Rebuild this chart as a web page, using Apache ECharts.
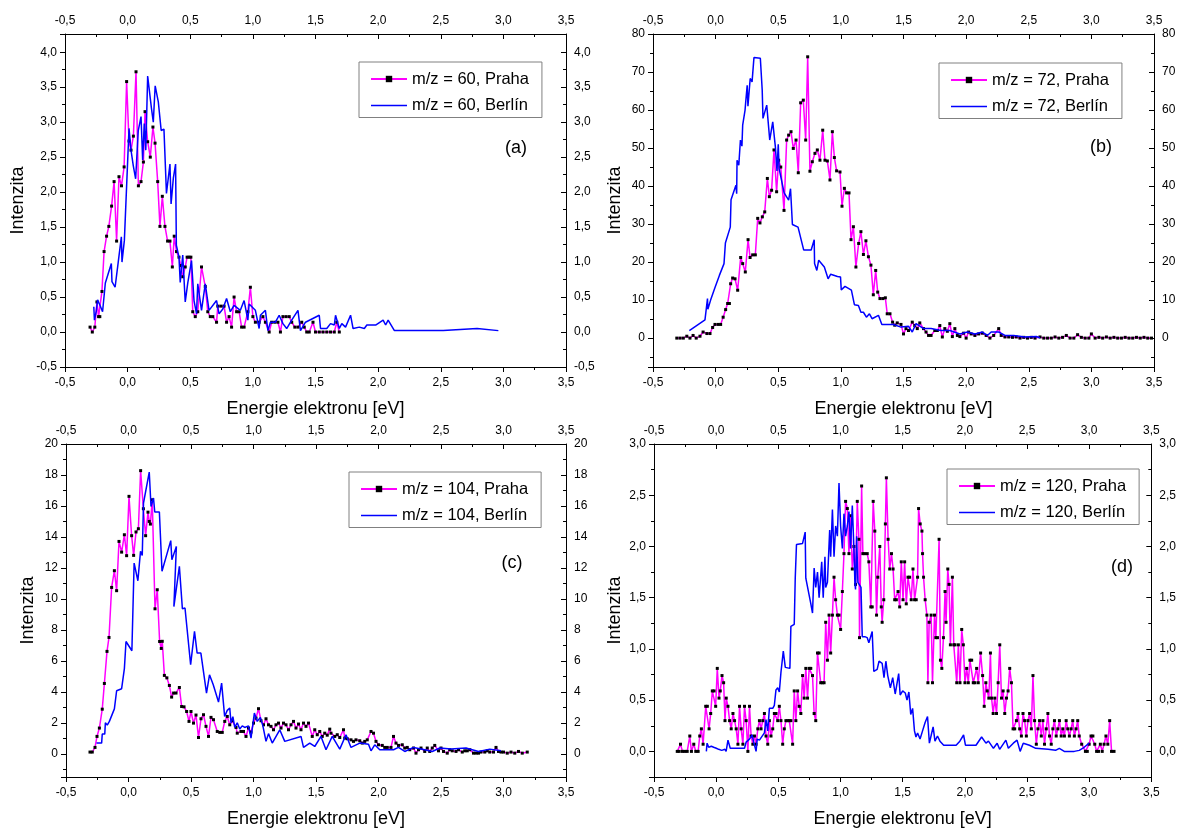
<!DOCTYPE html>
<html><head><meta charset="utf-8">
<script src="https://cdn.jsdelivr.net/npm/echarts@6/dist/echarts.min.js"></script>
<style>html,body{margin:0;padding:0;background:#fff}#c{width:1179px;height:831px}</style>
</head><body><div id="c"></div>
<script>
// ---- axis ranges [min, max, step, decimals] ----
const xRange = [-0.5, 3.5, 0.5, 1];
const yRangeA = [-0.5, 4.26, 0.5, 1];
const yRangeB = [-7.6, 80, 10, 0];
const yRangeC = [-1.5, 20, 2, 0];
const yRangeD = [-0.25, 3.0, 0.5, 1];
const xTitle = 'Energie elektronu [eV]';
const yTitle = 'Intenzita';
const panelLabels = ['(a)', '(b)', '(c)', '(d)'];
const namesA = ['m/z = 60, Praha', 'm/z = 60, Berlín'];
const namesB = ['m/z = 72, Praha', 'm/z = 72, Berlín'];
const namesC = ['m/z = 104, Praha', 'm/z = 104, Berlín'];
const namesD = ['m/z = 120, Praha', 'm/z = 120, Berlín'];

// ---- data [x, y] ----
const praha60 = [[-0.30,0.07],[-0.282,0],[-0.262,0.07],[-0.245,0.43],[-0.232,0.22],[-0.222,0.22],[-0.205,0.58],[-0.188,1.15],[-0.168,1.37],[-0.15,1.51],[-0.128,1.8],[-0.108,2.15],[-0.088,1.3],[-0.069,2.22],[-0.049,2.09],[-0.028,2.36],[-0.008,3.58],[0.011,2.73],[0.027,2.6],[0.046,2.8],[0.067,3.72],[0.086,2.09],[0.107,2.15],[0.126,2.43],[0.139,3.15],[0.16,2.72],[0.181,2.5],[0.202,2.93],[0.219,2.7],[0.24,2.15],[0.258,1.51],[0.277,1.94],[0.298,1.51],[0.319,1.3],[0.338,1.3],[0.357,0.93],[0.372,1.37],[0.39,1.15],[0.41,1.07],[0.425,0.95],[0.44,0.79],[0.46,0.93],[0.475,1.07],[0.49,1.07],[0.505,1.07],[0.52,0.29],[0.54,0.22],[0.56,0.29],[0.59,0.93],[0.62,0.65],[0.64,0.29],[0.66,0.22],[0.68,0.22],[0.71,0.14],[0.72,0.37],[0.745,0.37],[0.77,0.37],[0.79,0.14],[0.81,0.22],[0.83,0.07],[0.85,0.5],[0.87,0.29],[0.89,0.29],[0.91,0.07],[0.93,0.07],[0.96,0.29],[0.98,0.64],[1.0,0.22],[1.02,0.14],[1.05,0.14],[1.08,0.22],[1.1,0.14],[1.13,0],[1.15,0.14],[1.175,0.14],[1.2,0.14],[1.22,0],[1.24,0.22],[1.265,0.22],[1.29,0.22],[1.31,0.14],[1.335,0.07],[1.36,0.07],[1.39,0.14],[1.41,0.07],[1.43,0],[1.45,0],[1.48,0.14],[1.5,0],[1.53,0],[1.56,0],[1.59,0],[1.62,0],[1.65,0],[1.67,0.14],[1.69,0]];
const berlin60 = [[-0.27,0.36],[-0.265,0.17],[-0.25,0.3],[-0.24,0.46],[-0.22,0.38],[-0.2,0.29],[-0.178,0.7],[-0.13,0.98],[-0.125,0.72],[-0.1,0.64],[-0.075,1.0],[-0.05,1.36],[-0.045,1.0],[-0.026,1.31],[0.011,2.91],[0.027,2.6],[0.045,2.38],[0.064,2.19],[0.085,2.88],[0.107,3.08],[0.12,2.46],[0.133,2.98],[0.145,2.6],[0.16,3.66],[0.19,3.2],[0.205,3.0],[0.22,3.52],[0.245,3.29],[0.268,2.88],[0.29,2.9],[0.31,1.98],[0.338,2.4],[0.347,1.83],[0.365,2.2],[0.383,2.4],[0.389,1.24],[0.41,1.07],[0.42,0.71],[0.44,1.1],[0.46,0.43],[0.48,0.7],[0.51,1.02],[0.53,0.45],[0.55,0.26],[0.56,0.69],[0.59,0.31],[0.62,0.69],[0.65,0.31],[0.71,0.45],[0.73,0.26],[0.76,0.33],[0.79,0.48],[0.82,0.29],[0.85,0.38],[0.9,0.31],[0.93,0.45],[0.96,0.17],[0.97,0.4],[1.02,0.31],[1.05,0.05],[1.06,0.24],[1.1,0.31],[1.12,0.02],[1.14,0.14],[1.18,0.14],[1.21,0.24],[1.24,0.12],[1.27,0.05],[1.31,0.17],[1.36,0.31],[1.38,0.02],[1.42,0.14],[1.53,0.24],[1.54,0.05],[1.59,0.05],[1.62,0.12],[1.65,0.1],[1.66,0.24],[1.69,0.05],[1.71,0.12],[1.74,0.07],[1.78,0.24],[1.8,0.05],[1.85,0.07],[1.89,0.05],[1.91,0.1],[1.98,0.1],[2.04,0.17],[2.06,0.1],[2.08,0.17],[2.13,0.02],[2.28,0.02],[2.52,0.02],[2.79,0.05],[2.96,0.02]];

const praha72 = [[-0.31,0],[-0.284,0],[-0.258,0],[-0.23,0.5],[-0.205,0],[-0.18,0.7],[-0.155,0],[-0.125,0.5],[-0.1,1.6],[-0.07,1.2],[-0.045,1.2],[-0.024,2.8],[-0.005,3.6],[0.02,3.6],[0.04,3.6],[0.06,5.5],[0.08,7.5],[0.096,9.1],[0.11,9.1],[0.12,14.3],[0.136,15.8],[0.155,15.6],[0.176,12.6],[0.2,21.2],[0.216,19.6],[0.237,17.4],[0.259,25.9],[0.275,21.2],[0.296,21.9],[0.317,21.9],[0.336,31.5],[0.354,30.3],[0.373,31.9],[0.392,33.2],[0.413,42.0],[0.429,37.2],[0.447,38.9],[0.466,49.5],[0.487,38.5],[0.503,46.8],[0.52,45.0],[0.546,33.6],[0.567,52.1],[0.583,53.4],[0.602,54.3],[0.62,49.9],[0.642,52.1],[0.66,43.5],[0.679,61.9],[0.7,62.6],[0.719,52.1],[0.735,74.0],[0.753,43.9],[0.772,46.4],[0.793,48.6],[0.812,49.5],[0.833,46.8],[0.855,54.7],[0.873,46.8],[0.892,46.6],[0.913,41.6],[0.932,54.3],[0.948,47.5],[0.966,44.0],[0.993,43.7],[1.009,34.7],[1.028,39.4],[1.046,38.2],[1.065,38.2],[1.081,25.9],[1.1,29.3],[1.12,18.7],[1.142,24.9],[1.16,28.0],[1.18,22.0],[1.2,25.6],[1.22,21.4],[1.24,19.2],[1.259,11.4],[1.278,17.8],[1.294,12.1],[1.312,10.4],[1.335,10.4],[1.355,10.6],[1.37,6.4],[1.392,6.4],[1.413,4.2],[1.43,3.4],[1.45,4.0],[1.48,3.6],[1.5,1.1],[1.52,2.5],[1.54,2.0],[1.57,4.2],[1.59,3.3],[1.61,2.5],[1.63,4.0],[1.66,2.5],[1.68,1.6],[1.7,0.7],[1.72,0.7],[1.75,2.0],[1.77,2.0],[1.79,3.3],[1.81,0.3],[1.83,2.5],[1.85,1.8],[1.87,3.8],[1.89,0.4],[1.91,2.5],[1.93,0.7],[1.95,0.4],[1.98,1.3],[2.0,0],[2.02,1.6],[2.04,1.1],[2.07,0.7],[2.1,1.1],[2.13,1.3],[2.16,0.7],[2.19,0],[2.22,0.7],[2.26,2.5],[2.28,0.7],[2.31,0.3],[2.34,0.3],[2.37,0.2],[2.4,0.3],[2.43,0],[2.46,0.2],[2.49,0],[2.52,0.2],[2.55,0],[2.59,0.3],[2.62,0],[2.65,0],[2.68,0],[2.71,0.3],[2.74,0],[2.77,0.2],[2.8,0.7],[2.83,0],[2.86,0],[2.89,0.9],[2.92,0.2],[2.95,0],[2.98,0],[3.0,1.1],[3.03,0],[3.06,0.2],[3.09,0],[3.12,0.3],[3.15,0],[3.18,0.2],[3.21,0],[3.24,0],[3.27,0.2],[3.3,0],[3.33,0],[3.36,0.2],[3.39,0],[3.42,0.2],[3.45,0],[3.48,0]];
const berlin72 = [[-0.21,2.0],[-0.085,4.8],[-0.065,10.4],[-0.062,7.6],[-0.04,10.0],[-0.005,13.3],[0.03,16.5],[0.067,19.6],[0.078,25.0],[0.117,29.2],[0.123,36.4],[0.162,40.2],[0.168,38.0],[0.171,46.8],[0.185,45.5],[0.198,52.1],[0.21,50.5],[0.216,56.0],[0.235,60.0],[0.24,62.0],[0.252,66.5],[0.258,61.0],[0.261,60.8],[0.276,68.3],[0.291,67.4],[0.306,73.8],[0.357,73.6],[0.372,65.2],[0.378,57.8],[0.408,61.3],[0.432,52.1],[0.456,56.9],[0.477,50.3],[0.49,44.0],[0.5,51.0],[0.507,44.6],[0.52,45.0],[0.547,38.2],[0.583,36.3],[0.598,39.3],[0.613,29.9],[0.658,29.2],[0.703,23.2],[0.763,23.2],[0.787,25.9],[0.79,19.6],[0.808,17.8],[0.823,20.5],[0.868,18.7],[0.898,15.6],[0.919,16.8],[0.973,16.2],[0.997,16.1],[1.003,12.7],[1.033,13.6],[1.084,12.6],[1.108,8.8],[1.14,8.6],[1.16,6.8],[1.18,6.8],[1.204,5.5],[1.228,6.4],[1.249,5.1],[1.3,6.0],[1.327,3.6],[1.42,3.6],[1.48,2.9],[1.54,3.1],[1.57,1.6],[1.6,3.8],[1.66,2.5],[1.72,2.5],[1.8,2.0],[1.87,2.0],[1.95,1.1],[2.01,1.6],[2.07,1.1],[2.13,1.6],[2.17,0.7],[2.2,1.6],[2.26,1.6],[2.31,0.7],[2.38,0.7],[2.47,0.3],[2.56,0.4],[2.59,0.1]];

const praha104 = [[-0.308,0.11],[-0.29,0.11],[-0.268,0.41],[-0.252,1.12],[-0.233,1.66],[-0.21,2.88],[-0.193,4.54],[-0.172,6.61],[-0.156,7.51],[-0.135,10.74],[-0.113,11.82],[-0.095,10.53],[-0.076,13.71],[-0.055,13.02],[-0.033,14.14],[-0.015,12.79],[0.004,16.62],[0.025,14.08],[0.041,12.81],[0.06,14.32],[0.079,14.53],[0.097,18.28],[0.119,15.82],[0.137,14.08],[0.156,15.6],[0.166,15.0],[0.175,14.83],[0.19,16.4],[0.212,9.36],[0.23,10.59],[0.249,7.25],[0.262,6.8],[0.27,7.26],[0.287,5.06],[0.307,4.9],[0.327,4.41],[0.345,3.66],[0.361,3.92],[0.38,3.92],[0.407,4.28],[0.425,3.05],[0.444,3.03],[0.465,2.73],[0.484,2.09],[0.5,2.73],[0.52,1.98],[0.54,2.5],[0.56,1.05],[0.58,2.26],[0.6,2.52],[0.62,1.77],[0.64,1.12],[0.66,2.35],[0.68,2.2],[0.71,1.44],[0.73,1.38],[0.75,1.38],[0.77,2.09],[0.79,2.41],[0.81,1.87],[0.83,2.13],[0.86,1.7],[0.87,1.33],[0.9,1.44],[0.92,1.44],[0.94,1.12],[0.96,1.66],[0.98,1.4],[1.0,1.98],[1.02,2.3],[1.04,2.91],[1.06,2.13],[1.08,1.87],[1.1,2.26],[1.12,1.87],[1.14,1.77],[1.16,1.55],[1.18,1.87],[1.2,1.98],[1.22,1.66],[1.24,1.98],[1.26,1.87],[1.28,1.55],[1.3,1.87],[1.32,2.09],[1.34,1.66],[1.36,1.92],[1.38,1.55],[1.4,1.98],[1.42,1.77],[1.44,1.98],[1.47,1.12],[1.49,1.55],[1.51,1.23],[1.53,1.44],[1.55,1.12],[1.57,1.33],[1.59,1.2],[1.61,1.59],[1.62,1.33],[1.65,1.12],[1.67,1.23],[1.69,1.05],[1.72,1.55],[1.73,1.01],[1.75,0.97],[1.78,0.9],[1.8,0.8],[1.82,0.9],[1.85,0.84],[1.87,0.69],[1.89,0.8],[1.91,0.9],[1.94,1.44],[1.96,1.33],[1.98,0.8],[2.0,0.58],[2.03,0.54],[2.05,0.41],[2.07,0.41],[2.1,0.41],[2.12,1.12],[2.14,0.69],[2.16,0.54],[2.19,0.58],[2.21,0.37],[2.23,0.41],[2.25,0.26],[2.28,0.37],[2.3,0.04],[2.32,0.26],[2.34,0.37],[2.37,0.15],[2.39,0.37],[2.41,0.15],[2.43,0.37],[2.45,0.54],[2.48,0.19],[2.5,0.37],[2.52,0.15],[2.55,0.04],[2.57,0.26],[2.59,0.19],[2.62,0.15],[2.64,0.26],[2.67,0.11],[2.69,0.19],[2.71,0.19],[2.73,0.26],[2.76,0.04],[2.78,0.04],[2.8,0.04],[2.82,0.11],[2.85,0.11],[2.87,0.19],[2.89,0.11],[2.92,0.11],[2.94,0.41],[2.96,0.15],[2.98,0.11],[3.0,0.11],[3.03,0.04],[3.06,0.11],[3.09,0.04],[3.12,0.15],[3.15,0.04],[3.19,0.11]];
const berlin104 = [[-0.256,0.69],[-0.215,0.69],[-0.21,1.27],[-0.19,1.27],[-0.185,2.0],[-0.17,1.85],[-0.153,2.09],[-0.113,2.9],[-0.095,4.07],[-0.055,4.2],[-0.033,5.5],[-0.02,7.25],[0.027,6.65],[0.045,12.31],[0.075,11.17],[0.096,13.07],[0.11,12.81],[0.12,16.19],[0.166,18.19],[0.18,15.97],[0.2,16.51],[0.21,15.61],[0.247,15.61],[0.268,11.78],[0.338,13.76],[0.347,12.53],[0.383,13.39],[0.363,9.5],[0.407,12.1],[0.431,9.36],[0.452,9.41],[0.497,5.75],[0.528,7.9],[0.549,6.5],[0.579,6.5],[0.624,3.92],[0.648,5.1],[0.678,4.46],[0.72,3.34],[0.745,4.56],[0.769,2.41],[0.79,2.8],[0.81,2.95],[0.82,2.0],[0.835,2.4],[0.85,1.7],[0.87,2.0],[0.89,1.6],[0.91,1.8],[0.93,1.7],[0.96,1.8],[0.98,1.01],[1.007,2.63],[1.03,2.09],[1.055,2.35],[1.075,1.8],[1.1,0.8],[1.12,1.3],[1.15,0.69],[1.21,1.55],[1.25,0.8],[1.38,1.12],[1.4,0.41],[1.45,0.69],[1.49,0.47],[1.54,1.12],[1.58,0.26],[1.63,1.12],[1.69,0.3],[1.74,1.23],[1.78,0.41],[1.85,0.69],[1.92,0.62],[1.94,0.19],[1.97,0.58],[2.01,0.26],[2.12,0.26],[2.16,0.41],[2.21,0.15],[2.28,0.41],[2.37,0.26],[2.43,0.15],[2.49,0.37],[2.58,0.3],[2.7,0.37],[2.8,0.15],[2.89,0.3],[2.98,0.19]];

const praha120 = [[-0.313,0],[-0.297,0],[-0.287,0.07],[-0.271,0],[-0.252,0],[-0.233,0],[-0.212,0.15],[-0.199,0],[-0.18,0.07],[-0.164,0],[-0.145,0],[-0.132,0.15],[-0.119,0.22],[-0.105,0.07],[-0.084,0.44],[-0.071,0.44],[-0.057,0.22],[-0.044,0.37],[-0.031,0.59],[-0.017,0.59],[-0.004,0.44],[0.009,0.81],[0.023,0.52],[0.033,0.59],[0.047,0.74],[0.06,0.67],[0.071,0.3],[0.081,0.52],[0.095,0.44],[0.108,0.3],[0.121,0.22],[0.135,0.37],[0.148,0.3],[0.161,0.22],[0.175,0.07],[0.188,0.44],[0.201,0.22],[0.215,0.07],[0.228,0.44],[0.241,0.3],[0.255,0],[0.268,0.44],[0.281,0.15],[0.295,0.07],[0.308,0.15],[0.321,0.07],[0.335,0.22],[0.348,0.3],[0.361,0.22],[0.375,0.3],[0.388,0.37],[0.401,0.15],[0.415,0.07],[0.428,0.3],[0.441,0.15],[0.455,0.22],[0.468,0.37],[0.481,0.37],[0.495,0.3],[0.508,0.44],[0.521,0.3],[0.535,0.07],[0.548,0.22],[0.561,0.3],[0.575,0.3],[0.588,0.3],[0.601,0.3],[0.615,0.07],[0.628,0.59],[0.641,0.3],[0.655,0.59],[0.668,0.44],[0.681,0.37],[0.695,0.74],[0.708,0.52],[0.721,0.81],[0.735,0.52],[0.748,0.81],[0.761,0.81],[0.775,0.74],[0.788,0.37],[0.801,0.3],[0.815,0.96],[0.828,0.96],[0.841,0.67],[0.855,0.67],[0.868,0.67],[0.881,1.26],[0.895,0.89],[0.908,1.33],[0.921,0.96],[0.935,1.33],[0.948,1.7],[0.961,1.48],[0.975,1.33],[0.988,1.33],[1.001,1.19],[1.015,1.56],[1.028,1.93],[1.041,2.44],[1.055,2.37],[1.068,1.93],[1.081,2.3],[1.095,1.78],[1.108,2.0],[1.121,1.63],[1.135,2.44],[1.148,2.07],[1.153,1.11],[1.17,2.59],[1.18,1.93],[1.195,1.93],[1.215,1.93],[1.228,1.85],[1.244,1.41],[1.255,1.41],[1.263,2.44],[1.276,2.15],[1.29,1.33],[1.3,1.7],[1.316,2.0],[1.328,1.41],[1.335,1.26],[1.348,1.48],[1.361,2.22],[1.369,2.67],[1.383,2.07],[1.396,1.78],[1.41,1.93],[1.423,1.78],[1.436,1.48],[1.449,1.48],[1.463,1.56],[1.476,1.41],[1.489,1.85],[1.503,1.48],[1.516,1.85],[1.529,1.44],[1.543,1.7],[1.556,1.7],[1.569,1.48],[1.583,1.78],[1.596,1.48],[1.609,1.48],[1.62,1.7],[1.628,2.37],[1.641,2.22],[1.655,2.15],[1.66,1.93],[1.668,1.7],[1.681,1.48],[1.695,1.33],[1.703,0.67],[1.713,1.26],[1.729,1.33],[1.74,0.67],[1.756,1.33],[1.767,1.11],[1.78,1.11],[1.793,2.07],[1.804,0.89],[1.815,0.81],[1.828,1.11],[1.841,1.56],[1.849,1.26],[1.863,1.78],[1.873,1.63],[1.884,1.04],[1.9,1.7],[1.911,1.04],[1.921,1.04],[1.935,0.67],[1.948,1.04],[1.961,0.67],[1.975,1.19],[1.988,1.04],[2.001,0.67],[2.015,0.81],[2.028,0.67],[2.041,0.89],[2.055,0.89],[2.068,0.67],[2.081,0.67],[2.095,0.81],[2.108,0.67],[2.127,0.96],[2.143,0.74],[2.156,0.44],[2.169,0.67],[2.18,0.59],[2.193,0.52],[2.206,0.96],[2.215,0.52],[2.228,0.37],[2.241,0.52],[2.255,0.37],[2.268,0.67],[2.281,1.04],[2.295,0.52],[2.308,0.59],[2.321,0.37],[2.335,0.52],[2.348,0.59],[2.361,0.81],[2.375,0.67],[2.388,0.22],[2.401,0.22],[2.415,0.3],[2.428,0.37],[2.441,0.22],[2.455,0.15],[2.468,0.37],[2.481,0.3],[2.495,0.15],[2.508,0.3],[2.521,0.37],[2.535,0.22],[2.548,0.74],[2.561,0.3],[2.575,0.07],[2.588,0.22],[2.601,0.3],[2.615,0.15],[2.628,0.3],[2.641,0.07],[2.655,0.22],[2.668,0.37],[2.681,0.15],[2.695,0.07],[2.708,0.22],[2.721,0.3],[2.735,0.15],[2.748,0.22],[2.761,0.3],[2.775,0.15],[2.788,0.22],[2.801,0.15],[2.815,0.3],[2.828,0.22],[2.841,0.15],[2.855,0.22],[2.868,0.3],[2.881,0.15],[2.895,0.22],[2.908,0.3],[2.92,0.15],[2.94,0.07],[2.97,0],[2.985,0],[3.0,0.07],[3.015,0.15],[3.03,0.15],[3.045,0.07],[3.06,0],[3.075,0],[3.09,0.07],[3.105,0],[3.12,0.07],[3.135,0.15],[3.15,0.07],[3.165,0.3],[3.18,0],[3.2,0]];
const berlin120 = [[-0.079,0],[-0.073,0.08],[-0.06,0.04],[-0.039,0.05],[-0.02,0.04],[0.001,0.03],[0.02,0.02],[0.045,0.01],[0.07,0.02],[0.08,0],[0.095,0.11],[0.108,0.11],[0.113,0.03],[0.15,0.03],[0.2,0.03],[0.228,0.03],[0.241,0.09],[0.268,0.12],[0.289,0.16],[0.3,0.1],[0.321,0],[0.33,0.12],[0.348,0.11],[0.361,0.12],[0.388,0.18],[0.401,0.31],[0.415,0.2],[0.428,0.42],[0.455,0.42],[0.468,0.45],[0.481,0.6],[0.495,0.62],[0.508,0.58],[0.521,0.77],[0.54,0.98],[0.556,0.82],[0.593,0.81],[0.601,1.22],[0.628,1.24],[0.636,1.69],[0.646,2.02],[0.695,2.03],[0.716,2.14],[0.721,1.69],[0.76,1.45],[0.775,1.35],[0.788,1.79],[0.801,1.6],[0.815,1.75],[0.828,1.5],[0.849,1.85],[0.861,1.5],[0.875,1.9],[0.881,1.6],[0.895,1.65],[0.913,2.16],[0.921,1.9],[0.935,2.36],[0.948,1.9],[0.961,2.2],[0.975,2.1],[0.988,2.62],[1.001,2.2],[1.015,1.98],[1.028,2.32],[1.041,2.1],[1.055,2.2],[1.068,2.34],[1.081,1.98],[1.095,2.4],[1.108,1.98],[1.116,1.64],[1.121,1.58],[1.13,2.1],[1.14,1.65],[1.153,1.66],[1.165,1.6],[1.175,1.12],[1.195,1.12],[1.215,1.11],[1.228,1.06],[1.255,1.17],[1.268,0.78],[1.295,0.8],[1.31,0.88],[1.335,0.86],[1.35,0.72],[1.365,0.88],[1.38,0.74],[1.401,0.62],[1.42,0.72],[1.44,0.56],[1.468,0.76],[1.48,0.55],[1.5,0.59],[1.521,0.57],[1.535,0.5],[1.55,0.58],[1.565,0.36],[1.58,0.42],[1.595,0.2],[1.607,0.14],[1.62,0.18],[1.64,0.12],[1.66,0.2],[1.68,0.28],[1.7,0.34],[1.715,0.08],[1.73,0.16],[1.745,0.24],[1.76,0.1],[1.78,0.15],[1.8,0.1],[1.83,0.06],[1.886,0.06],[1.93,0.06],[1.96,0.1],[1.99,0.16],[2.005,0.06],[2.05,0.06],[2.09,0.06],[2.135,0.14],[2.17,0.08],[2.19,0.1],[2.23,0.03],[2.26,0.08],[2.28,0.02],[2.33,0.11],[2.35,0.03],[2.39,0.08],[2.42,0.11],[2.445,0],[2.47,0.08],[2.52,0.06],[2.57,0.03],[2.67,0.02],[2.73,0.01],[2.76,0.03],[2.8,0],[2.88,0],[2.92,0.01],[2.96,0.04],[3.0,0.08]];

// ---- layout ----
const FONT = 'Liberation Sans';
const grids = [
  {left: 65, top: 34, width: 501, height: 333},
  {left: 653, top: 34, width: 501, height: 333},
  {left: 66, top: 444, width: 500, height: 333},
  {left: 654, top: 444, width: 500, height: 333}
];
const legendPos = [{left: 359, top: 62}, {left: 939, top: 63}, {left: 349, top: 472}, {left: 947, top: 469}];
const labelPos = [[516, 148], [1101, 147], [512, 563], [1122, 567]];
const yNameGap = [38, 29, 29, 30];
const panels = [
  {yr: yRangeA, names: namesA, p: praha60, b: berlin60},
  {yr: yRangeB, names: namesB, p: praha72, b: berlin72},
  {yr: yRangeC, names: namesC, p: praha104, b: berlin104},
  {yr: yRangeD, names: namesD, p: praha120, b: berlin120}
];

function fmt(step, dec) {
  return function (v) {
    const k = Math.round(v / step);
    if (Math.abs(v - k * step) > step * 1e-3) return '';
    const val = k * step;
    return dec ? val.toFixed(dec).replace('.', ',') : String(Math.round(val));
  };
}
const black = {color: '#000', width: 1};
function xAx(i, pos) {
  const top = pos === 'top';
  const a = {
    gridIndex: i, type: 'value', position: pos, min: xRange[0], max: xRange[1], interval: xRange[2],
    axisLine: {onZero: false, lineStyle: black},
    axisTick: {show: true, inside: top, length: 5, lineStyle: black},
    minorTick: {show: true, splitNumber: 2, length: 3, lineStyle: black},
    axisLabel: {fontSize: 12, color: '#000', fontFamily: FONT, margin: top ? 7 : 10, formatter: fmt(xRange[2], xRange[3])},
    splitLine: {show: false}
  };
  if (!top) {
    a.name = xTitle; a.nameLocation = 'middle'; a.nameGap = 33;
    a.nameTextStyle = {fontSize: 18, color: '#000', fontFamily: FONT};
  }
  return a;
}
function yAx(i, pos, yr) {
  const right = pos === 'right';
  const a = {
    gridIndex: i, type: 'value', position: pos, min: yr[0], max: yr[1],
    splitNumber: Math.round((yr[1] - yr[0]) / yr[2]), minInterval: yr[2], maxInterval: yr[2],
    axisLine: {onZero: false, lineStyle: black},
    axisTick: {show: true, inside: right, length: 5, lineStyle: black},
    minorTick: {show: true, splitNumber: 2, length: 3, lineStyle: black},
    axisLabel: {fontSize: 12, color: '#000', fontFamily: FONT, margin: 8, formatter: fmt(yr[2], yr[3]), showMinLabel: true, showMaxLabel: true},
    splitLine: {show: false}
  };
  if (!right) {
    a.name = yTitle; a.nameLocation = 'middle'; a.nameGap = yNameGap[i];
    a.nameTextStyle = {fontSize: 18, color: '#000', fontFamily: FONT};
  }
  return a;
}

const xAxis = [], yAxis = [], series = [], legend = [], graphic = [];
panels.forEach(function (pn, i) {
  xAxis.push(xAx(i, 'bottom'), xAx(i, 'top'));
  yAxis.push(yAx(i, 'left', pn.yr), yAx(i, 'right', pn.yr));
  series.push({
    type: 'line', name: pn.names[0], xAxisIndex: 2 * i, yAxisIndex: 2 * i, data: pn.p,
    symbol: 'rect', symbolSize: 3, showSymbol: true,
    itemStyle: {color: '#000'}, lineStyle: {color: '#ff00ff', width: 1.5},
    emphasis: {disabled: true}, animation: false, z: 2
  });
  series.push({
    type: 'line', name: pn.names[1], xAxisIndex: 2 * i, yAxisIndex: 2 * i, data: pn.b,
    symbol: 'none', showSymbol: false,
    itemStyle: {color: '#0000ff'}, lineStyle: {color: '#0000ff', width: 1.5},
    emphasis: {disabled: true}, animation: false, z: 3
  });
  legend.push({
    orient: 'vertical', left: legendPos[i].left, top: legendPos[i].top,
    data: [{name: pn.names[0]}, {name: pn.names[1], icon: 'path://M0,0H36V1.5H0Z'}],
    itemWidth: 36, itemHeight: 8, itemGap: 8.5, padding: [8, 13, 3, 11],
    borderColor: '#808080', borderWidth: 1, selectedMode: false,
    textStyle: {fontSize: 16.5, color: '#000', fontFamily: FONT, lineHeight: 18}
  });
  graphic.push({
    type: 'text', x: labelPos[i][0], y: labelPos[i][1],
    style: {text: panelLabels[i], fontSize: 18, fontFamily: FONT, fill: '#000', align: 'center', verticalAlign: 'middle'}
  });
});

const chart = echarts.init(document.getElementById('c'), null, {renderer: 'canvas'});
chart.setOption({
  animation: false,
  backgroundColor: '#fff',
  textStyle: {fontFamily: FONT},
  grid: grids,
  xAxis: xAxis,
  yAxis: yAxis,
  series: series,
  legend: legend,
  graphic: graphic
});
</script>
</body></html>
